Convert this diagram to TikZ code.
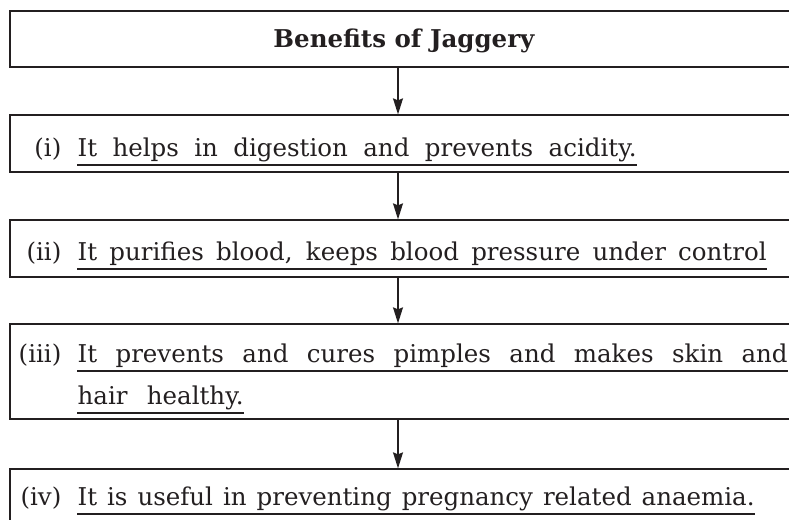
\documentclass[tikz,border=0pt]{standalone}
\usepackage{fontspec}
\setmainfont{DejaVu Serif}
\usetikzlibrary{arrows.meta}
\definecolor{ink}{HTML}{231F20}
\begin{document}
\begin{tikzpicture}[x=1pt,y=-1pt,line width=1.3pt,color=ink,>={Stealth[length=16pt,width=10pt,inset=2pt]},
	box/.style={draw,minimum width=790pt,inner sep=0pt},
	txt/.style={inner sep=0pt,font=\fontsize{24.5}{28}\selectfont},
	num/.style={txt,anchor=base east},
	stm/.style={txt,anchor=base west}]
	\useasboundingbox (0,0) rectangle (789,519);
	\clip (0,0) rectangle (789,519);
	\node[box,minimum height=56pt] (b0) at (405,39) {};
	\node[box,minimum height=57pt] (b1) at (405,143.5) {};
	\node[box,minimum height=57pt] (b2) at (405,248.5) {};
	\node[box,minimum height=95pt] (b3) at (405,371.5) {};
	\node[box,minimum height=60pt] (b4) at (405,499) {};
	\foreach \a/\b in {b0/b1,b1/b2,b2/b3,b3/b4}
		\draw[->] ([xshift=-7pt]\a.south) -- ([xshift=-7pt]\b.north);
	\node[txt,anchor=base,font=\fontsize{24.5}{28}\selectfont\bfseries] (title) at (404,48) {Benefits of Jaggery};
	\node[num] (n1) at (62,156) {(i)};
	\node[stm] (t1) at (77,156) {\makebox[559pt][s]{It helps in digestion and prevents acidity.}};
	\node[num] (n2) at (62,260) {(ii)};
	\node[stm] (t2) at (77,260) {\makebox[689pt][s]{It purifies blood, keeps blood pressure under control}};
	\node[num] (n3) at (62,362) {(iii)};
	\node[stm] (t3) at (77,362) {\makebox[710pt][s]{It prevents and cures pimples and makes skin and}};
	\node[stm] (t3b) at (77,404) {\makebox[166pt][s]{hair healthy.}};
	\node[num] (n4) at (62,505) {(iv)};
	\node[stm] (t4) at (77,505) {\makebox[677pt][s]{It is useful in preventing pregnancy related anaemia.}};
	\foreach \t in {t1,t2,t3,t3b,t4}
		\draw ([yshift=-9pt]\t.base west) -- ([yshift=-9pt]\t.base east);
\end{tikzpicture}
\end{document}
